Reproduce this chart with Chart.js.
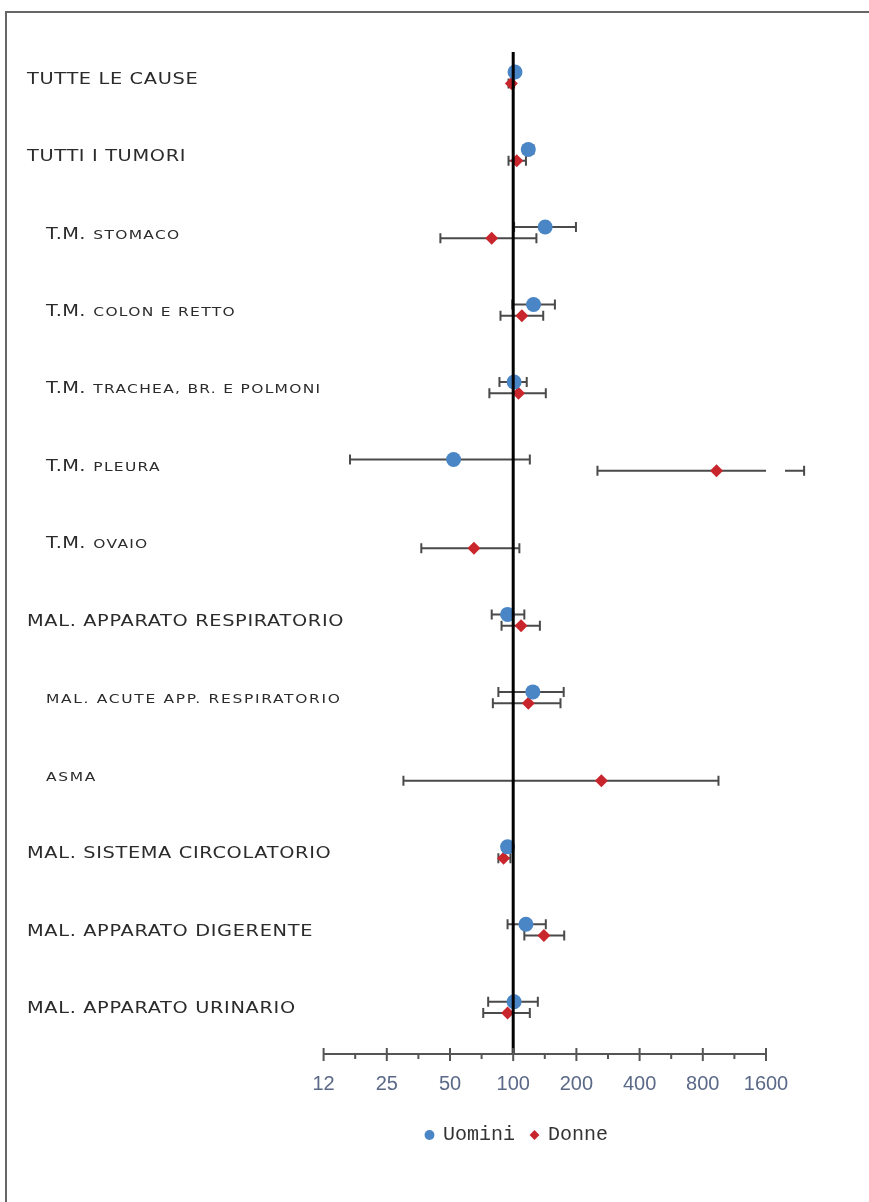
<!DOCTYPE html>
<html><head><meta charset="utf-8">
<script src="https://cdn.jsdelivr.net/npm/chart.js@4.4.1/dist/chart.umd.min.js"></script>
<style>
html,body{margin:0;padding:0;background:#fff;}
#wrap{position:relative;width:869px;height:1202px;overflow:hidden;}
#frame{position:absolute;left:5px;top:11px;width:900px;height:1300px;border-left:2px solid #666;border-top:2px solid #666;}
canvas{position:absolute;left:0;top:0;}
</style></head><body>
<div id="wrap"><div id="frame"></div><canvas id="c" width="869" height="1202"></canvas></div>
<script>
// ---- data ----
const categories = [
  'TUTTE LE CAUSE',
  'TUTTI I TUMORI',
  'T.M. stomaco',
  'T.M. colon e retto',
  'T.M. trachea, br. e polmoni',
  'T.M. pleura',
  'T.M. ovaio',
  'MAL. APPARATO RESPIRATORIO',
  'MAL. ACUTE APP. RESPIRATORIO',
  'ASMA',
  'MAL. SISTEMA CIRCOLATORIO',
  'MAL. APPARATO DIGERENTE',
  'MAL. APPARATO URINARIO'
];
const uominiRR   = [102, 118, 142, 125, 101,  52,  null,  94, 124, null,  94, 115, 101];
const uominiLow  = [ 99, 112, 101,  99,  86, 16.7, null,  79,  85, null,  91,  94,  76];
const uominiHigh = [105, 125, 199, 158, 116, 120,  null, 113, 174, null,  97, 143, 131];
const donneRR    = [ 98, 104,  79, 110, 106, 930,  65,  109, 118, 263,  90, 140,  94];
const donneLow   = [ 95,  95,  45,  87,  77, 252,  36.5,  88,  80,  30,  85, 113,  72];
const donneHigh  = [101, 115, 129, 139, 143, 2430, 107, 134, 168, 950,  97, 175, 120];
const tickValues = [12.5, 25, 50, 100, 200, 400, 800, 1600];
const tickLabels = ['12', '25', '50', '100', '200', '400', '800', '1600'];
const referenceValue = 100;
const seriesNames = ['Uomini', 'Donne'];

// ---- styles (not data) ----
const labelKind = ['main','main','sub','sub','sub','sub','sub','main','small','small','main','main','main'];

function buildPoints(rr, lo, hi, off) {
  const out = [];
  rr.forEach((v, i) => { if (v != null) out.push({ x: v, y: i + off, lo: lo[i], hi: hi[i] }); });
  return out;
}

const errorBars = {
  id: 'errorBars',
  beforeDatasetsDraw(chart) {
    const { ctx, scales: { x, y } } = chart;
    ctx.save();
    ctx.strokeStyle = '#4a4a4a';
    ctx.lineWidth = 2;
    chart.data.datasets.forEach((ds, di) => {
      if (!chart.isDatasetVisible(di)) return;
      ds.data.forEach(p => {
        const py = y.getPixelForValue(p.y);
        const x1 = x.getPixelForValue(p.lo);
        const x2 = x.getPixelForValue(p.hi);
        const xm = x.getPixelForValue(x.max);
        ctx.beginPath();
        if (p.hi > x.max) {
          ctx.moveTo(x1, py); ctx.lineTo(xm, py);
          ctx.moveTo(xm + 19, py); ctx.lineTo(x2, py);
        } else {
          ctx.moveTo(x1, py); ctx.lineTo(x2, py);
        }
        ctx.moveTo(x1, py - 5); ctx.lineTo(x1, py + 5);
        ctx.moveTo(x2, py - 5); ctx.lineTo(x2, py + 5);
        ctx.stroke();
      });
    });
    ctx.restore();
  }
};

const refLine = {
  id: 'refLine',
  afterDatasetsDraw(chart) {
    const { ctx, chartArea, scales: { x } } = chart;
    const px = x.getPixelForValue(referenceValue);
    ctx.save();
    ctx.strokeStyle = '#000';
    ctx.lineWidth = 3;
    ctx.beginPath();
    ctx.moveTo(px, chartArea.top);
    ctx.lineTo(px, chartArea.bottom + 1);
    ctx.stroke();
    ctx.restore();
  }
};

const xAxisLine = {
  id: 'xAxisLine',
  afterDraw(chart) {
    const { ctx, chartArea, scales: { x } } = chart;
    const yb = chartArea.bottom + 1;
    ctx.save();
    ctx.strokeStyle = '#555';
    ctx.lineWidth = 2;
    ctx.beginPath();
    ctx.moveTo(x.getPixelForValue(tickValues[0]), yb);
    ctx.lineTo(x.getPixelForValue(tickValues[tickValues.length - 1]), yb);
    tickValues.forEach(v => {
      const px = x.getPixelForValue(v);
      ctx.moveTo(px, yb - 6); ctx.lineTo(px, yb + 7);
    });
    for (let i = 0; i < tickValues.length - 1; i++) {
      const px = x.getPixelForValue(Math.sqrt(tickValues[i] * tickValues[i + 1]));
      ctx.moveTo(px, yb); ctx.lineTo(px, yb + 5);
    }
    ctx.stroke();
    ctx.restore();
  }
};

const catLabels = {
  id: 'catLabels',
  afterDraw(chart) {
    const { ctx, scales: { y } } = chart;
    const sx = 1.29;
    categories.forEach((text, i) => {
      const kind = labelKind[i];
      const x0 = kind === 'main' ? 27 : 46;
      const by = y.getPixelForValue(i) + 6;
      ctx.save();
      ctx.fillStyle = '#2b2b2b';
      ctx.textBaseline = 'alphabetic';
      ctx.textAlign = 'left';
      ctx.translate(x0, by);
      ctx.scale(sx, 1);
      let cx = 0;
      const seg = (str, size, ls) => {
        ctx.font = size + 'px "DejaVu Sans"';
        ctx.letterSpacing = ls + 'px';
        ctx.fillText(str, cx, 0);
        cx += ctx.measureText(str).width;
      };
      if (kind === 'main') {
        seg(text, 15, 0.5);
      } else if (kind === 'small') {
        seg(text.toUpperCase(), 12, 1.3);
      } else {
        const m = text.match(/^(\S+)\s+(.*)$/);
        seg(m[1], 15, 0.2);
        cx += 6;
        seg(m[2].toUpperCase(), 12, 1.0);
      }
      ctx.restore();
    });
  }
};

new Chart(document.getElementById('c').getContext('2d'), {
  type: 'scatter',
  data: {
    datasets: [
      {
        label: seriesNames[0],
        data: buildPoints(uominiRR, uominiLow, uominiHigh, -0.071),
        backgroundColor: '#4a86c6', borderColor: '#4a86c6',
        pointBackgroundColor: '#4a86c6', pointBorderColor: '#4a86c6',
        pointBorderWidth: 0, borderWidth: 0,
        pointStyle: 'circle', pointRadius: 7.5, pointHoverRadius: 7.5
      },
      {
        label: seriesNames[1],
        data: buildPoints(donneRR, donneLow, donneHigh, 0.075),
        backgroundColor: '#c8262c', borderColor: '#c8262c',
        pointBackgroundColor: '#c8262c', pointBorderColor: '#c8262c',
        pointBorderWidth: 0, borderWidth: 0,
        pointStyle: 'rectRot', pointRadius: 6.5, pointHoverRadius: 6.5
      }
    ]
  },
  options: {
    responsive: false,
    animation: false,
    events: [],
    layout: { padding: { left: 268, right: 103, top: 52, bottom: 47 } },
    scales: {
      x: {
        type: 'logarithmic', min: 12.5, max: 1600,
        grid: { display: false }, border: { display: false },
        afterBuildTicks(s) { s.ticks = tickValues.map(v => ({ value: v })); },
        afterFit(s) { s.height = 56; },
        ticks: {
          autoSkip: false, maxRotation: 0, minRotation: 0, padding: 11,
          color: '#5a6987',
          font: { family: '"Liberation Sans", Arial, sans-serif', size: 20 },
          callback: (v, i) => tickLabels[i]
        }
      },
      y: {
        type: 'linear', reverse: true, min: -0.33, max: 12.59,
        grid: { display: false }, border: { display: false },
        ticks: { display: false },
        afterFit(s) { s.width = 55.6; }
      }
    },
    plugins: {
      legend: {
        position: 'bottom',
        labels: {
          usePointStyle: true, boxWidth: 7, boxHeight: 7, padding: 16,
          color: '#333',
          font: { family: '"Liberation Mono", monospace', size: 20 }
        }
      },
      tooltip: { enabled: false }
    }
  },
  plugins: [errorBars, refLine, xAxisLine, catLabels]
});
</script>
</body></html>
